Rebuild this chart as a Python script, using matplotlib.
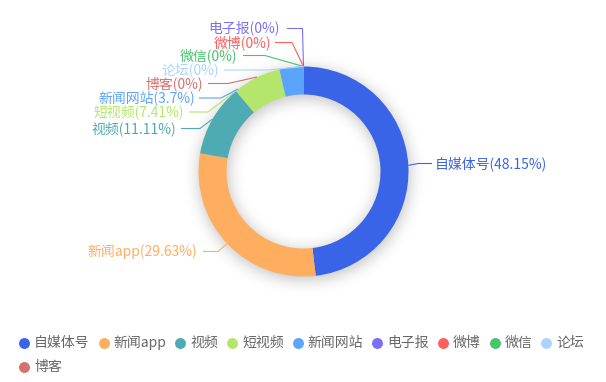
import numpy as np
import matplotlib
matplotlib.use("Agg")
import matplotlib.pyplot as plt

plt.rcParams['font.family'] = ['Noto Sans CJK SC', 'DejaVu Sans']

# ---- data ----
categories = ['自媒体号', '新闻app', '视频', '短视频', '新闻网站', '电子报', '微博', '微信', '论坛', '博客']
counts = [13, 8, 3, 2, 1, 0, 0, 0, 0, 0]
percent_labels = ['48.15%', '29.63%', '11.11%', '7.41%', '3.7%', '0%', '0%', '0%', '0%', '0%']
colors = ['#3a64e8', '#ffad5e', '#4eabb3', '#b5e66c', '#5aa5fb',
          '#7b6ff6', '#fd5e5e', '#4ac36e', '#aad4ff', '#d8706e']

# ---- layout (pixels, y measured from top) ----
W, H = 606, 382
cx, cy = 303.5, 171.5
R_out, ring_w = 105, 28
FS = 10  # pt

fig = plt.figure(figsize=(W / 100, H / 100), dpi=100)
ax = fig.add_axes([0, 0, 1, 1])

def P(x, y):
    return x, H - y

# soft shadow around ring
yy, xx = np.mgrid[0:H, 0:W] + 0.5
rr = np.hypot(xx - (cx + 1), yy - (cy + 3))
mask = ((rr <= R_out) & (rr >= R_out - ring_w)).astype(float)
sig = 8
k = np.arange(-3 * sig, 3 * sig + 1)
g = np.exp(-k ** 2 / (2 * sig ** 2)); g /= g.sum()
blur = np.apply_along_axis(lambda v: np.convolve(v, g, mode='same'), 0, mask)
blur = np.apply_along_axis(lambda v: np.convolve(v, g, mode='same'), 1, blur)
shadow = np.zeros((H, W, 4))
shadow[..., 3] = 0.26 * blur
ax.imshow(shadow, extent=(0, W, 0, H), origin='upper', zorder=0, interpolation='bilinear')

ax.pie(counts, colors=colors, startangle=90, counterclock=False,
       radius=R_out, center=P(cx, cy), frame=True,
       wedgeprops=dict(width=ring_w, linewidth=0, zorder=2))

# mid angle points on outer edge (clockwise from top)
fr = np.array(counts, float) / sum(counts)
cum = np.cumsum(fr) - fr / 2
def edge_pt(i):
    a = 2 * np.pi * cum[i]
    return cx + R_out * np.sin(a), cy - R_out * np.cos(a)

# label layout: (text x edge, text y, line start x, elbow x, optional end override)
layout = {
    '自媒体号': (435, 163.5, 432, 418, None),
    '新闻app': (197, 251.5, 203, 218, None),
    '视频': (176, 128.5, 181, 200, None),
    '短视频': (184, 112, 189, 208, (233, 93)),
    '新闻网站': (195, 98, 199, 221, (238, 89)),
    '博客': (203, 83.5, 208, 228, (257, 77)),
    '论坛': (219, 70, 224, 268, None),
    '微信': (237, 55.5, 243, 265, None),
    '微博': (271, 42.5, 275, 292, None),
    '电子报': (280, 27.5, 287, 302.5, None),
}

for i, name in enumerate(categories):
    tx, ty, lx, ex, end = layout[name]
    end = end if end is not None else edge_pt(i)
    if name == '电子报':
        pts = [(lx, ty + 1), (ex, ty + 1), end]
    else:
        pts = [(lx, ty), (ex, ty), end]
    xs, ys = zip(*[P(*p) for p in pts])
    ax.plot(xs, ys, color=colors[i], lw=0.8, zorder=3, solid_capstyle='butt')
    ha = 'left' if tx > cx else 'right'
    ax.text(*P(tx, ty), f'{name}({percent_labels[i]})', color=colors[i],
            fontsize=FS, ha=ha, va='center', zorder=4)

# legend (flow layout)
ax.set_xlim(0, W)
ax.set_ylim(0, H)
ax.axis('off')
fig.canvas.draw()
renderer = fig.canvas.get_renderer()
x, y = 24, 342.5
for i, name in enumerate(categories):
    t = ax.text(*P(x + 10, y), name, color='#666666', fontsize=FS, ha='left', va='center')
    bb = t.get_window_extent(renderer)
    w = bb.width
    if x + 10 + w > W - 5:
        x, y = 24, y + 24
        t.set_position(P(x + 10, y))
    ax.scatter(*P(x, y), s=62, color=colors[i], zorder=5, linewidths=0)
    x = x + 10 + w + 14

fig.savefig('out.png', dpi=100)
